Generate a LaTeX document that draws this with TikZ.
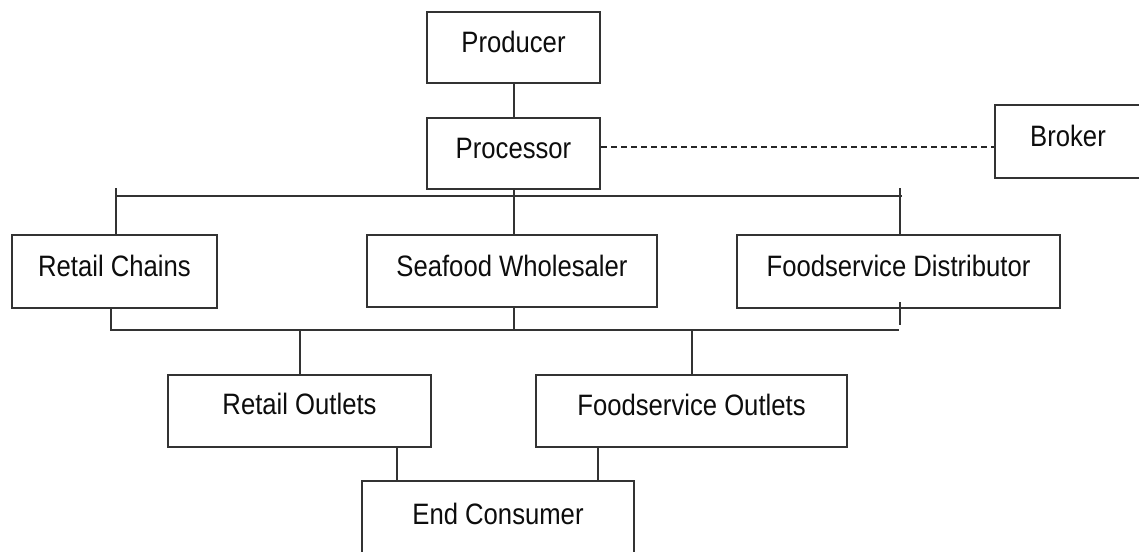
\documentclass[tikz,border=0pt]{standalone}
\usepackage{fontspec}
\setmainfont{Liberation Sans}[FakeStretch=0.87]
\begin{document}
\begin{tikzpicture}[x=1pt,y=-1pt,
  box/.style={draw=black!80, line width=2pt, rectangle, inner sep=0pt,
    font=\fontsize{29.5}{34}\selectfont, text depth=11pt, text=black!95},
  link/.style={draw=black!80, line width=2pt},
  dlink/.style={draw=black!85, line width=1.5pt, dash pattern=on 6pt off 4pt}]
\useasboundingbox (0,0) rectangle (1139,551);
\clip (0,0) rectangle (1139,551);
\fill[white] (0,0) rectangle (1139,551);

\node[box, minimum width=173pt, minimum height=71pt] (prod) at (513.5,47.5) {Producer};
\node[box, minimum width=173pt, minimum height=71pt] (proc) at (513.5,153.5) {Processor};
\node[box, minimum width=146pt, minimum height=73pt] (brk) at (1068,141.5) {Broker};
\node[box, minimum width=205pt, minimum height=73pt] (rc) at (114.5,271.5) {Retail Chains};
\node[box, minimum width=290pt, minimum height=72pt] (sea) at (512,271) {Seafood Wholesaler};
\node[box, minimum width=323pt, minimum height=73pt] (fd) at (898.5,271.5) {Foodservice Distributor};
\node[box, minimum width=263pt, minimum height=72pt, text depth=14pt] (ro) at (299.5,411) {Retail Outlets};
\node[box, minimum width=311pt, minimum height=72pt, text depth=12pt] (fo) at (691.5,411) {Foodservice Outlets};
\node[box, minimum width=272pt, minimum height=77pt, text depth=12pt] (ec) at (498,519.5) {End Consumer};

% producer - processor
\coordinate (midX) at (514,0);
\draw[link] (midX |- prod.south) -- (midX |- proc.north);
% broker
\coordinate (dashy) at (0,147);
\draw[dlink] (proc.east |- dashy) -- (brk.west |- dashy);

% top bus
\coordinate (busL) at (116,196);
\coordinate (busR) at (902,196);
\coordinate (tL) at (116,188);
\coordinate (tR) at (900,188);
\draw[link] (busL) -- (busR);
\draw[link] (midX |- proc.south) -- (midX |- sea.north);
\draw[link] (tL) -- (tL |- rc.north);
\draw[link] (tR) -- (tR |- fd.north);

% bottom bus
\coordinate (bbL) at (111,330);
\coordinate (bbR) at (899,330);
\draw[link] (bbL |- rc.south) -- (bbL) -- (bbR);
\draw[link] (midX |- sea.south) -- (midX |- bbL);
\coordinate (fdt) at (900,302);
\draw[link] (fdt) -- ++(0,23);
\coordinate (roX) at (300,330);
\coordinate (foX) at (692,330);
\draw[link] (roX) -- (roX |- ro.north);
\draw[link] (foX) -- (foX |- fo.north);

% outlets to consumer
\coordinate (ecL) at (397,0);
\coordinate (ecR) at (598,0);
\draw[link] (ecL |- ro.south) -- (ecL |- ec.north);
\draw[link] (ecR |- fo.south) -- (ecR |- ec.north);
\end{tikzpicture}
\end{document}
